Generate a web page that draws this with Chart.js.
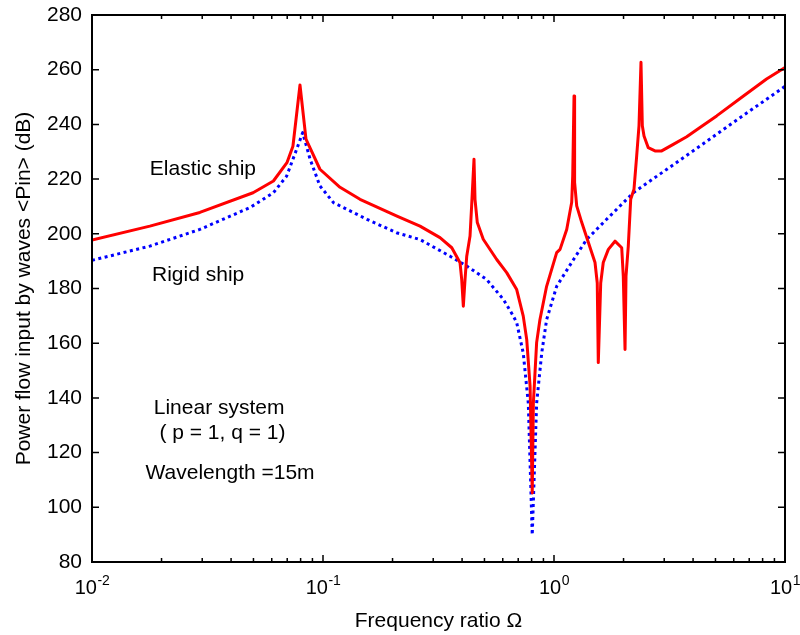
<!DOCTYPE html>
<html>
<head>
<meta charset="utf-8">
<script src="https://cdn.jsdelivr.net/npm/chart.js@4/dist/chart.umd.min.js"></script>
<style>
  html, body { margin: 0; padding: 0; background: #fff; }
  #wrap { width: 800px; height: 635px; position: relative; }
</style>
</head>
<body>
<div id="wrap"><canvas id="c" width="800" height="635"></canvas></div>
<script>
// ---- Data ----
const freqElastic = [0.01, 0.0178, 0.0293, 0.0498, 0.061, 0.0698, 0.0741, 0.0795, 0.0844, 0.097, 0.1185, 0.1446, 0.209,
  0.263, 0.321, 0.361, 0.392, 0.3985, 0.405, 0.412, 0.419, 0.433, 0.440, 0.4505, 0.455, 0.4656, 0.494, 0.565, 0.624, 0.6895, 0.736,
  0.762, 0.788, 0.805, 0.814, 0.841, 0.869, 0.929, 1.027, 1.062, 1.135, 1.193, 1.205, 1.221, 1.228, 1.254, 1.318, 1.409,
  1.505, 1.539, 1.555, 1.593, 1.634, 1.719, 1.837, 1.964, 1.995, 2.030, 2.050, 2.097, 2.148, 2.220, 2.280, 2.333, 2.380,
  2.412, 2.453, 2.559, 2.736, 2.925, 3.284, 3.754, 4.285, 5.06, 6.61, 8.32, 10];
const powerElastic = [197.7, 202.8, 207.8, 215, 219.3, 226, 232, 254.4, 234.6, 223.6, 217, 212.6, 206.5,
  202.8, 198.6, 194.9, 189.4, 183.3, 173.5, 183.3, 191.8, 199.2, 210.2, 227.3, 212.6, 204.1, 198, 190.6, 185.8, 179.6, 169.9,
  161.3, 144.2, 105.2, 138, 160.2, 168.6, 180.8, 193.1, 194.3, 201.6, 211.5, 221.1, 250.4, 218.8, 210.2, 204.2, 196.8,
  189.5, 182, 152.9, 182, 189.5, 194.3, 197.3, 194.9, 184.5, 157.7, 184.5, 195.5, 212.6, 216.3, 228.5, 239.5, 262.7,
  239.5, 235.8, 231.5, 230.3, 230.3, 232.7, 235.5, 238.9, 243.1, 250.4, 256.6, 260.8];

const freqRigid = [0.01, 0.0178, 0.0293, 0.0483, 0.061, 0.0696, 0.0769, 0.0817, 0.0879, 0.097, 0.111, 0.155, 0.208,
  0.263, 0.355, 0.419, 0.511, 0.604, 0.667, 0.6895, 0.736, 0.774, 0.805, 0.841, 0.885, 0.929, 1.027, 1.215, 1.384,
  1.69, 2.204, 3.08, 4.29, 5.97, 8.32, 10];
const powerRigid = [190.3, 195.5, 201.6, 209.6, 215, 221.1, 230.9, 237, 227.3, 217.5, 211.4, 205.3, 200.4,
  197.9, 191.8, 188.2, 183.3, 176, 169.9, 167.5, 156.4, 138.1, 89.9, 138, 156.5, 168.6, 180.8, 190.6, 197.9,
  205.3, 215, 223.6, 232.1, 240.7, 249.2, 253.9];

const xDecades = [0.01, 0.1, 1, 10];
const xExponents = ['-2', '-1', '0', '1'];
const yTicks = [80, 100, 120, 140, 160, 180, 200, 220, 240, 260, 280];

const annotations = [
  { text: 'Elastic ship', x: 0.0302, y: 223.6 },
  { text: 'Rigid ship', x: 0.0288, y: 184.8 },
  { text: 'Linear system', x: 0.0355, y: 136.4 },
  { text: '( p = 1, q = 1)', x: 0.0367, y: 127.0 },
  { text: 'Wavelength =15m', x: 0.0396, y: 112.6 }
];

const FONT = "'Liberation Sans', Arial, sans-serif";

const framePlugin = {
  id: 'frame',
  afterDraw(chart) {
    const ctx = chart.ctx;
    const a = chart.chartArea;
    const xs = chart.scales.x, ys = chart.scales.y;
    ctx.save();
    // ticks (inward)
    ctx.strokeStyle = '#000';
    ctx.lineWidth = 1.5;
    ctx.beginPath();
    for (let d = 0; d < xDecades.length; d++) {
      const base = xDecades[d];
      for (let m = 1; m <= 9; m++) {
        const v = base * m;
        if (v > 10 + 1e-9) break;
        const px = xs.getPixelForValue(v);
        const len = (m === 1) ? 7 : 4;
        ctx.moveTo(px, a.bottom); ctx.lineTo(px, a.bottom - len);
        ctx.moveTo(px, a.top); ctx.lineTo(px, a.top + len);
      }
    }
    yTicks.forEach(v => {
      const py = ys.getPixelForValue(v);
      ctx.moveTo(a.left, py); ctx.lineTo(a.left + 7, py);
      ctx.moveTo(a.right, py); ctx.lineTo(a.right - 7, py);
    });
    ctx.stroke();
    // frame
    ctx.lineWidth = 2;
    ctx.strokeRect(a.left, a.top, a.right - a.left, a.bottom - a.top);
    // x tick labels with superscripts
    ctx.fillStyle = '#000';
    ctx.textBaseline = 'alphabetic';
    xDecades.forEach((v, i) => {
      const px = xs.getPixelForValue(v);
      ctx.font = '20px ' + FONT;
      const wb = ctx.measureText('10').width;
      ctx.font = '14px ' + FONT;
      const we = ctx.measureText(xExponents[i]).width;
      const start = px - (wb + we) / 2;
      ctx.font = '20px ' + FONT;
      ctx.textAlign = 'left';
      ctx.fillText('10', start, 594);
      ctx.font = '14px ' + FONT;
      ctx.fillText(xExponents[i], start + wb + 0.5, 585);
    });
    // annotations
    ctx.font = '21px ' + FONT;
    ctx.textAlign = 'center';
    ctx.textBaseline = 'middle';
    annotations.forEach(t => {
      ctx.fillText(t.text, xs.getPixelForValue(t.x), ys.getPixelForValue(t.y));
    });
    ctx.restore();
  }
};

new Chart(document.getElementById('c'), {
  type: 'line',
  data: {
    datasets: [
      {
        label: 'Elastic ship',
        data: freqElastic.map((f, i) => ({ x: f, y: powerElastic[i] })),
        borderColor: '#ff0000',
        borderWidth: 3,
        borderJoinStyle: 'round',
        pointRadius: 0,
        tension: 0,
        fill: false
      },
      {
        label: 'Rigid ship',
        data: freqRigid.map((f, i) => ({ x: f, y: powerRigid[i] })),
        borderColor: '#0000ff',
        borderWidth: 3,
        borderDash: [3, 3.5],
        borderCapStyle: 'butt',
        borderJoinStyle: 'round',
        pointRadius: 0,
        tension: 0,
        fill: false
      }
    ]
  },
  options: {
    responsive: false,
    animation: false,
    devicePixelRatio: 1,
    layout: { padding: { top: 15, right: 15, left: 0, bottom: 0 } },
    plugins: { legend: { display: false }, tooltip: { enabled: false } },
    scales: {
      x: {
        type: 'logarithmic',
        min: 0.01,
        max: 10,
        grid: { display: false, drawTicks: false },
        border: { display: false },
        ticks: { callback: () => '', autoSkip: false },
        title: {
          display: true,
          text: 'Frequency ratio Ω',
          color: '#000',
          font: { family: FONT, size: 21 },
          padding: { top: 0, bottom: 1 }
        },
        afterFit(scale) { scale.height = 73; scale.paddingLeft = 0; scale.paddingRight = 0; }
      },
      y: {
        type: 'linear',
        min: 80,
        max: 280,
        grid: { display: false, drawTicks: false },
        border: { display: false },
        ticks: {
          stepSize: 20,
          color: '#000',
          padding: 10,
          font: { family: FONT, size: 21 }
        },
        title: {
          display: true,
          text: 'Power flow input by waves <Pin> (dB)',
          color: '#000',
          font: { family: FONT, size: 21 },
          padding: { top: 12, bottom: 0 }
        },
        afterFit(scale) { scale.width = 92; scale.paddingTop = 0; scale.paddingBottom = 0; }
      }
    }
  },
  plugins: [framePlugin]
});
</script>
</body>
</html>
